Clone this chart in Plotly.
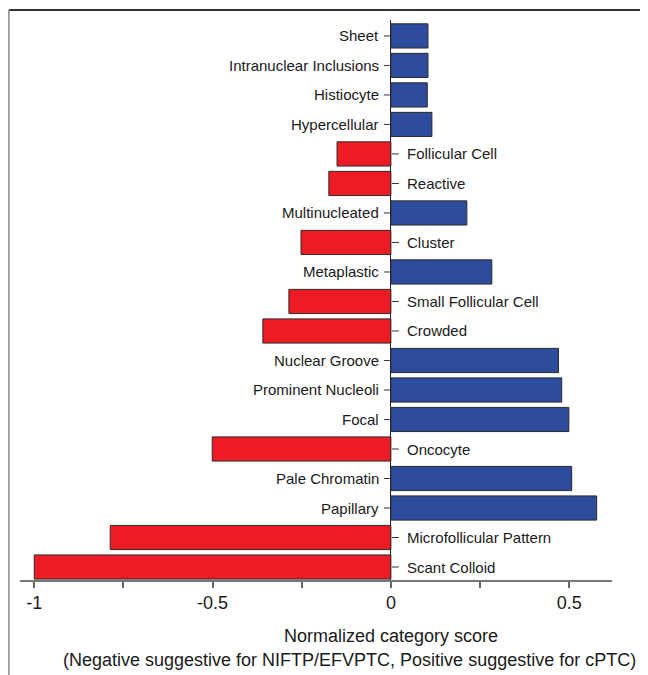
import plotly.graph_objects as go

categories = ["Sheet", "Intranuclear Inclusions", "Histiocyte", "Hypercellular",
              "Follicular Cell", "Reactive", "Multinucleated", "Cluster",
              "Metaplastic", "Small Follicular Cell", "Crowded", "Nuclear Groove",
              "Prominent Nucleoli", "Focal", "Oncocyte", "Pale Chromatin",
              "Papillary", "Microfollicular Pattern", "Scant Colloid"]
scores = [0.104, 0.104, 0.102, 0.115, -0.151, -0.174, 0.213, -0.252, 0.283,
          -0.286, -0.359, 0.47, 0.479, 0.499, -0.501, 0.507, 0.577, -0.787, -1.0]
tick_vals = [-1, -0.75, -0.5, -0.25, 0, 0.25, 0.5]
tick_text = ["-1", "", "-0.5", "", "0", "", "0.5"]

RED = "#ED1C24"
BLUE = "#2D4C9E"
FONT = "Liberation Sans, Arial"
colors = [BLUE if v > 0 else RED for v in scores]

fig = go.Figure(go.Bar(
    x=scores, y=categories, orientation="h",
    marker=dict(color=colors, line=dict(color="#2a2a2a", width=1)),
    width=0.82, hoverinfo="skip"))

annotations = []
shapes = []
for c, v in zip(categories, scores):
    if v > 0:
        annotations.append(dict(x=0, y=c, xref="x", yref="y", text=c, showarrow=False,
                                xanchor="right", xshift=-10,
                                font=dict(size=15, color="#1a1a1a", family=FONT)))
        shapes.append(dict(type="line", xref="x", yref="y", xsizemode="pixel", xanchor=0,
                           x0=-7, x1=-1, y0=c, y1=c, line=dict(color="#333", width=1)))
    else:
        annotations.append(dict(x=0, y=c, xref="x", yref="y", text=c, showarrow=False,
                                xanchor="left", xshift=14,
                                font=dict(size=15, color="#1a1a1a", family=FONT)))
        shapes.append(dict(type="line", xref="x", yref="y", xsizemode="pixel", xanchor=0,
                           x0=1, x1=8, y0=c, y1=c, line=dict(color="#333", width=1)))

# axis titles
annotations.append(dict(x=0.6267, y=-0.10, xref="paper", yref="paper",
                        text="Normalized category score", showarrow=False,
                        xanchor="center", yanchor="middle",
                        font=dict(size=18, color="#1a1a1a", family=FONT)))
annotations.append(dict(x=0.5574, y=-0.143, xref="paper", yref="paper",
                        text="(Negative suggestive for NIFTP/EFVPTC, Positive suggestive for cPTC)",
                        showarrow=False, xanchor="center", yanchor="middle",
                        font=dict(size=18, color="#1a1a1a", family=FONT)))

# outer frame (top and left)
shapes.append(dict(type="line", xref="paper", yref="paper", x0=-0.019, x1=1.07,
                   y0=1.0179, y1=1.0179, line=dict(color="#333", width=2)))
shapes.append(dict(type="line", xref="paper", yref="paper", x0=-0.019, x1=-0.019,
                   y0=1.0179, y1=-0.2, line=dict(color="#999", width=2)))

fig.update_layout(
    width=640, height=667,
    margin=dict(l=12, r=36, t=12, b=95),
    paper_bgcolor="white", plot_bgcolor="white",
    showlegend=False,
    annotations=annotations, shapes=shapes,
    font=dict(family=FONT, color="#1a1a1a"),
    xaxis=dict(range=[-1.04, 0.62], tickmode="array", tickvals=tick_vals, ticktext=tick_text,
               ticks="outside", ticklen=6, tickcolor="#666", tickwidth=1.5,
               showline=True, linecolor="#777", linewidth=1.5,
               showgrid=False, zeroline=True, zerolinecolor="#222", zerolinewidth=1,
               tickfont=dict(size=18, color="#1a1a1a"), fixedrange=True),
    yaxis=dict(type="category", autorange=False, range=[18.44, -0.54],
               showticklabels=False, ticks="", showline=False, showgrid=False,
               zeroline=False, fixedrange=True),
)

fig.write_html("out.html")
